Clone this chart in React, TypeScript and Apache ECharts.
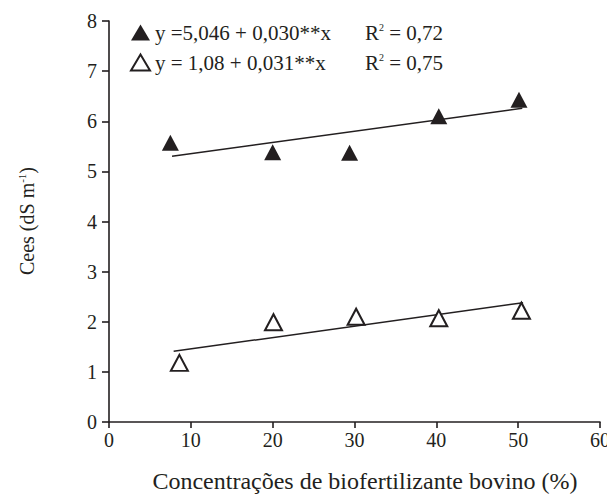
import React, { useEffect, useRef } from "react";
import * as echarts from "echarts";

const xTicks = [0, 10, 20, 30, 40, 50, 60];
const yTicks = [0, 1, 2, 3, 4, 5, 6, 7, 8];
const filledPoints: [number, number][] = [
  [7.5, 5.57],
  [20.0, 5.38],
  [29.4, 5.37],
  [40.3, 6.1],
  [50.1, 6.43],
];
const openPoints: [number, number][] = [
  [8.6, 1.18],
  [20.1, 1.99],
  [30.2, 2.1],
  [40.3, 2.07],
  [50.4, 2.22],
];
const filledFit: [number, number][] = [
  [7.7, 5.3],
  [50.5, 6.26],
];
const openFit: [number, number][] = [
  [7.9, 1.41],
  [50.6, 2.38],
];
const filledName = "y =5,046 + 0,030**x";
const openName = "y = 1,08 + 0,031**x";
const filledR2 = "0,72";
const openR2 = "0,75";
const xTitle = "Concentrações de biofertilizante bovino (%)";
const yTitle = "Cees (dS m";
const yTitleSup = "-1";

const FONT = "Liberation Serif";
const INK = "#231f20";

export default function App() {
  const ref = useRef<HTMLDivElement>(null);
  useEffect(() => {
    if (!ref.current) return;
    const chart = echarts.init(ref.current, undefined, { renderer: "svg" });
    const r2 = (name: string) => (name === filledName ? filledR2 : openR2);
    chart.setOption({
      animation: false,
      grid: { left: 109, right: 15, top: 21, bottom: 75 },
      legend: {
        data: [filledName, openName],
        orient: "vertical",
        left: 130,
        top: 22,
        padding: 0,
        itemWidth: 19,
        itemHeight: 16,
        itemGap: 9,
        selectedMode: false,
        formatter: (name: string) => `{eq|${name}}{r|R}{sup|2}{r| = ${r2(name)}}`,
        textStyle: {
          fontFamily: FONT,
          fontSize: 21,
          color: INK,
          rich: {
            eq: { fontFamily: FONT, fontSize: 21, color: INK, width: 210 },
            r: { fontFamily: FONT, fontSize: 21, color: INK },
            sup: { fontFamily: FONT, fontSize: 10, color: INK, verticalAlign: "top", lineHeight: 20, padding: [0, 0, 9, 0] },
          },
        },
      },
      graphic: [
        {
          type: "text",
          rotation: Math.PI / 2,
          x: 27,
          y: 221,
          style: {
            text: `{t|${yTitle}}{sup|${yTitleSup}}{t|)}`,
            fontFamily: FONT,
            fontSize: 20,
            fill: INK,
            align: "center",
            verticalAlign: "middle",
            rich: {
              t: { fontFamily: FONT, fontSize: 20 },
              sup: { fontFamily: FONT, fontSize: 11, padding: [0, 0, 10, 0] },
            },
          },
        },
      ],
      xAxis: {
        type: "value",
        min: 0,
        max: 60,
        interval: 10,
        name: xTitle,
        nameLocation: "middle",
        nameGap: 47,
        nameTextStyle: { fontFamily: FONT, fontSize: 24, color: INK, padding: [0, 0, 0, 21] },
        axisLine: { show: true, onZero: false, lineStyle: { color: INK, width: 1.6 } },
        axisTick: { show: true, inside: false, length: 6, lineStyle: { color: INK, width: 1.6 } },
        axisLabel: {
          fontFamily: FONT,
          fontSize: 20,
          color: INK,
          margin: 8,
          formatter: (v: number) => (xTicks.includes(v) ? String(v) : ""),
        },
        splitLine: { show: false },
      },
      yAxis: {
        type: "value",
        min: 0,
        max: 8,
        interval: 1,
        axisLine: { show: true, onZero: false, lineStyle: { color: INK, width: 1.6 } },
        axisTick: { show: true, inside: false, length: 7, lineStyle: { color: INK, width: 1.6 } },
        axisLabel: {
          fontFamily: FONT,
          fontSize: 20,
          color: INK,
          margin: 12,
          formatter: (v: number) => (yTicks.includes(v) ? String(v) : ""),
        },
        splitLine: { show: false },
      },
      series: [
        {
          name: filledName,
          type: "scatter",
          symbol: "triangle",
          symbolSize: [17, 16],
          data: filledPoints,
          itemStyle: { color: INK, opacity: 1 },
          z: 5,
        },
        {
          name: openName,
          type: "scatter",
          symbol: "triangle",
          symbolSize: [17, 16],
          data: openPoints,
          itemStyle: { color: "#ffffff", borderColor: INK, borderWidth: 2, opacity: 1 },
          z: 5,
        },
        {
          name: "fit1",
          type: "line",
          data: filledFit,
          showSymbol: false,
          symbol: "none",
          lineStyle: { color: INK, width: 1.5 },
          z: 3,
        },
        {
          name: "fit2",
          type: "line",
          data: openFit,
          showSymbol: false,
          symbol: "none",
          lineStyle: { color: INK, width: 1.5 },
          z: 3,
        },
      ],
    });
    return () => chart.dispose();
  }, []);
  return <div ref={ref} style={{ width: 615, height: 498, margin: "-8px 0 0 -8px" }} />;
}
